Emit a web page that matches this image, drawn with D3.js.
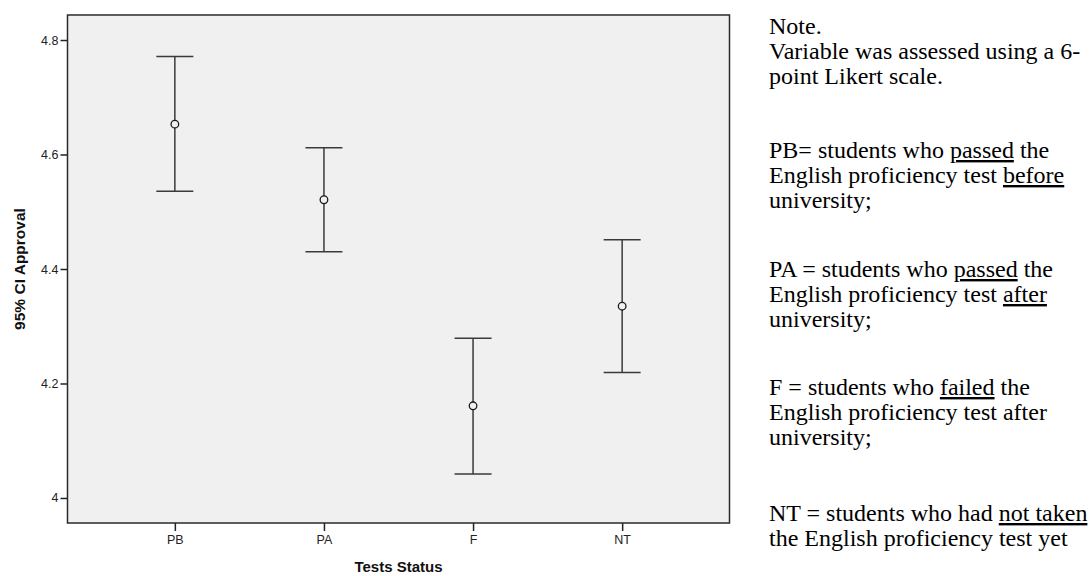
<!DOCTYPE html>
<html>
<head>
<meta charset="utf-8">
<script src="https://cdn.jsdelivr.net/npm/d3@7"></script>
<style>
  html, body { margin: 0; padding: 0; background: #ffffff; }
  svg { display: block; }
  .ul { text-decoration: underline; }
</style>
</head>
<body>
<svg id="chart" width="1090" height="576"></svg>
<script>
// ---- data ----
const categories = ["PB", "PA", "F", "NT"];
const means = [4.653, 4.521, 4.161, 4.335];
const lower = [4.536, 4.430, 4.042, 4.219];
const upper = [4.771, 4.612, 4.279, 4.451];
const yTicks = [4, 4.2, 4.4, 4.6, 4.8];
const yDomain = [3.9563, 4.8437];
const xTitle = "Tests Status";
const yTitle = "95% CI Approval";
const noteParagraphs = [
  [[["Note.", false]], [["Variable was assessed using a 6-", false]], [["point Likert scale.", false]]],
  [[["PB= students who ", false], ["passed", true], [" the", false]],
   [["English proficiency test ", false], ["before", true]],
   [["university;", false]]],
  [[["PA = students who ", false], ["passed", true], [" the", false]],
   [["English proficiency test ", false], ["after", true]],
   [["university;", false]]],
  [[["F = students who ", false], ["failed", true], [" the", false]],
   [["English proficiency test after", false]],
   [["university;", false]]],
  [[["NT = students who had ", false], ["not taken", true]],
   [["the English proficiency test yet", false]]]
];

// ---- layout ----
const plot = { left: 67.5, top: 15, right: 729.5, bottom: 523 };
const svg = d3.select("#chart");

const x = d3.scalePoint().domain(categories).range([plot.left, plot.right]).padding(0.72);
const y = d3.scaleLinear().domain(yDomain).range([plot.bottom, plot.top]);

// plot background
svg.append("rect")
  .attr("x", plot.left).attr("y", plot.top)
  .attr("width", plot.right - plot.left).attr("height", plot.bottom - plot.top)
  .attr("fill", "#f0f0f0");

// axes
const yAxis = d3.axisLeft(y).tickValues(yTicks).tickFormat(d3.format("~g")).tickSize(7).tickPadding(2);
const gy = svg.append("g").attr("transform", `translate(${plot.left},0)`).call(yAxis);
gy.select(".domain").remove();
gy.selectAll(".tick line").attr("stroke", "#222").attr("stroke-width", 1.5);
gy.selectAll(".tick text").attr("font-family", "'Liberation Sans', Arial, sans-serif")
  .attr("font-size", 12.5).attr("fill", "#222");

const xAxis = d3.axisBottom(x).tickSize(8).tickPadding(4);
const gx = svg.append("g").attr("transform", `translate(0,${plot.bottom})`).call(xAxis);
gx.select(".domain").remove();
gx.selectAll(".tick line").attr("stroke", "#222").attr("stroke-width", 1.5);
gx.selectAll(".tick text").attr("font-family", "'Liberation Sans', Arial, sans-serif")
  .attr("font-size", 12.5).attr("fill", "#222");

// frame
svg.append("rect")
  .attr("x", plot.left).attr("y", plot.top)
  .attr("width", plot.right - plot.left).attr("height", plot.bottom - plot.top)
  .attr("fill", "none").attr("stroke", "#2a2a2a").attr("stroke-width", 1.5);

// error bars
const rows = categories.map((c, i) => ({ c, m: means[i], lo: lower[i], hi: upper[i] }));
const capHalf = 18.5;
const g = svg.append("g").attr("stroke", "#3a3a3a").attr("stroke-width", 1.5).attr("fill", "none");
g.selectAll("line.v").data(rows).join("line").attr("class", "v")
  .attr("x1", d => x(d.c)).attr("x2", d => x(d.c))
  .attr("y1", d => y(d.hi)).attr("y2", d => y(d.lo));
g.selectAll("line.t").data(rows).join("line").attr("class", "t")
  .attr("x1", d => x(d.c) - capHalf).attr("x2", d => x(d.c) + capHalf)
  .attr("y1", d => y(d.hi)).attr("y2", d => y(d.hi));
g.selectAll("line.b").data(rows).join("line").attr("class", "b")
  .attr("x1", d => x(d.c) - capHalf).attr("x2", d => x(d.c) + capHalf)
  .attr("y1", d => y(d.lo)).attr("y2", d => y(d.lo));
g.selectAll("circle").data(rows).join("circle")
  .attr("cx", d => x(d.c)).attr("cy", d => y(d.m)).attr("r", 3.8)
  .attr("fill", "#f0f0f0").attr("stroke", "#1a1a1a").attr("stroke-width", 1.3);

// axis titles
svg.append("text")
  .attr("x", (plot.left + plot.right) / 2).attr("y", 572)
  .attr("text-anchor", "middle")
  .attr("font-family", "'Liberation Sans', Arial, sans-serif")
  .attr("font-weight", "bold").attr("font-size", 15).attr("fill", "#111")
  .text(xTitle);
svg.append("text")
  .attr("transform", `translate(25,${(plot.top + plot.bottom) / 2}) rotate(-90)`)
  .attr("text-anchor", "middle")
  .attr("font-family", "'Liberation Sans', Arial, sans-serif")
  .attr("font-weight", "bold").attr("font-size", 15.5).attr("fill", "#111")
  .text(yTitle);

// note text
const noteX = 769, lineH = 25;
const paraStarts = [34, 158, 277, 395, 521];
const note = svg.append("g")
  .attr("font-family", "'Liberation Serif', 'Times New Roman', serif")
  .attr("font-size", 24).attr("fill", "#000");
noteParagraphs.forEach((para, pi) => {
  para.forEach((line, li) => {
    const t = note.append("text").attr("x", noteX).attr("y", paraStarts[pi] + li * lineH);
    line.forEach(([s, u]) => {
      const ts = t.append("tspan").text(s);
      if (u) ts.attr("class", "ul");
    });
  });
});
</script>
</body>
</html>
